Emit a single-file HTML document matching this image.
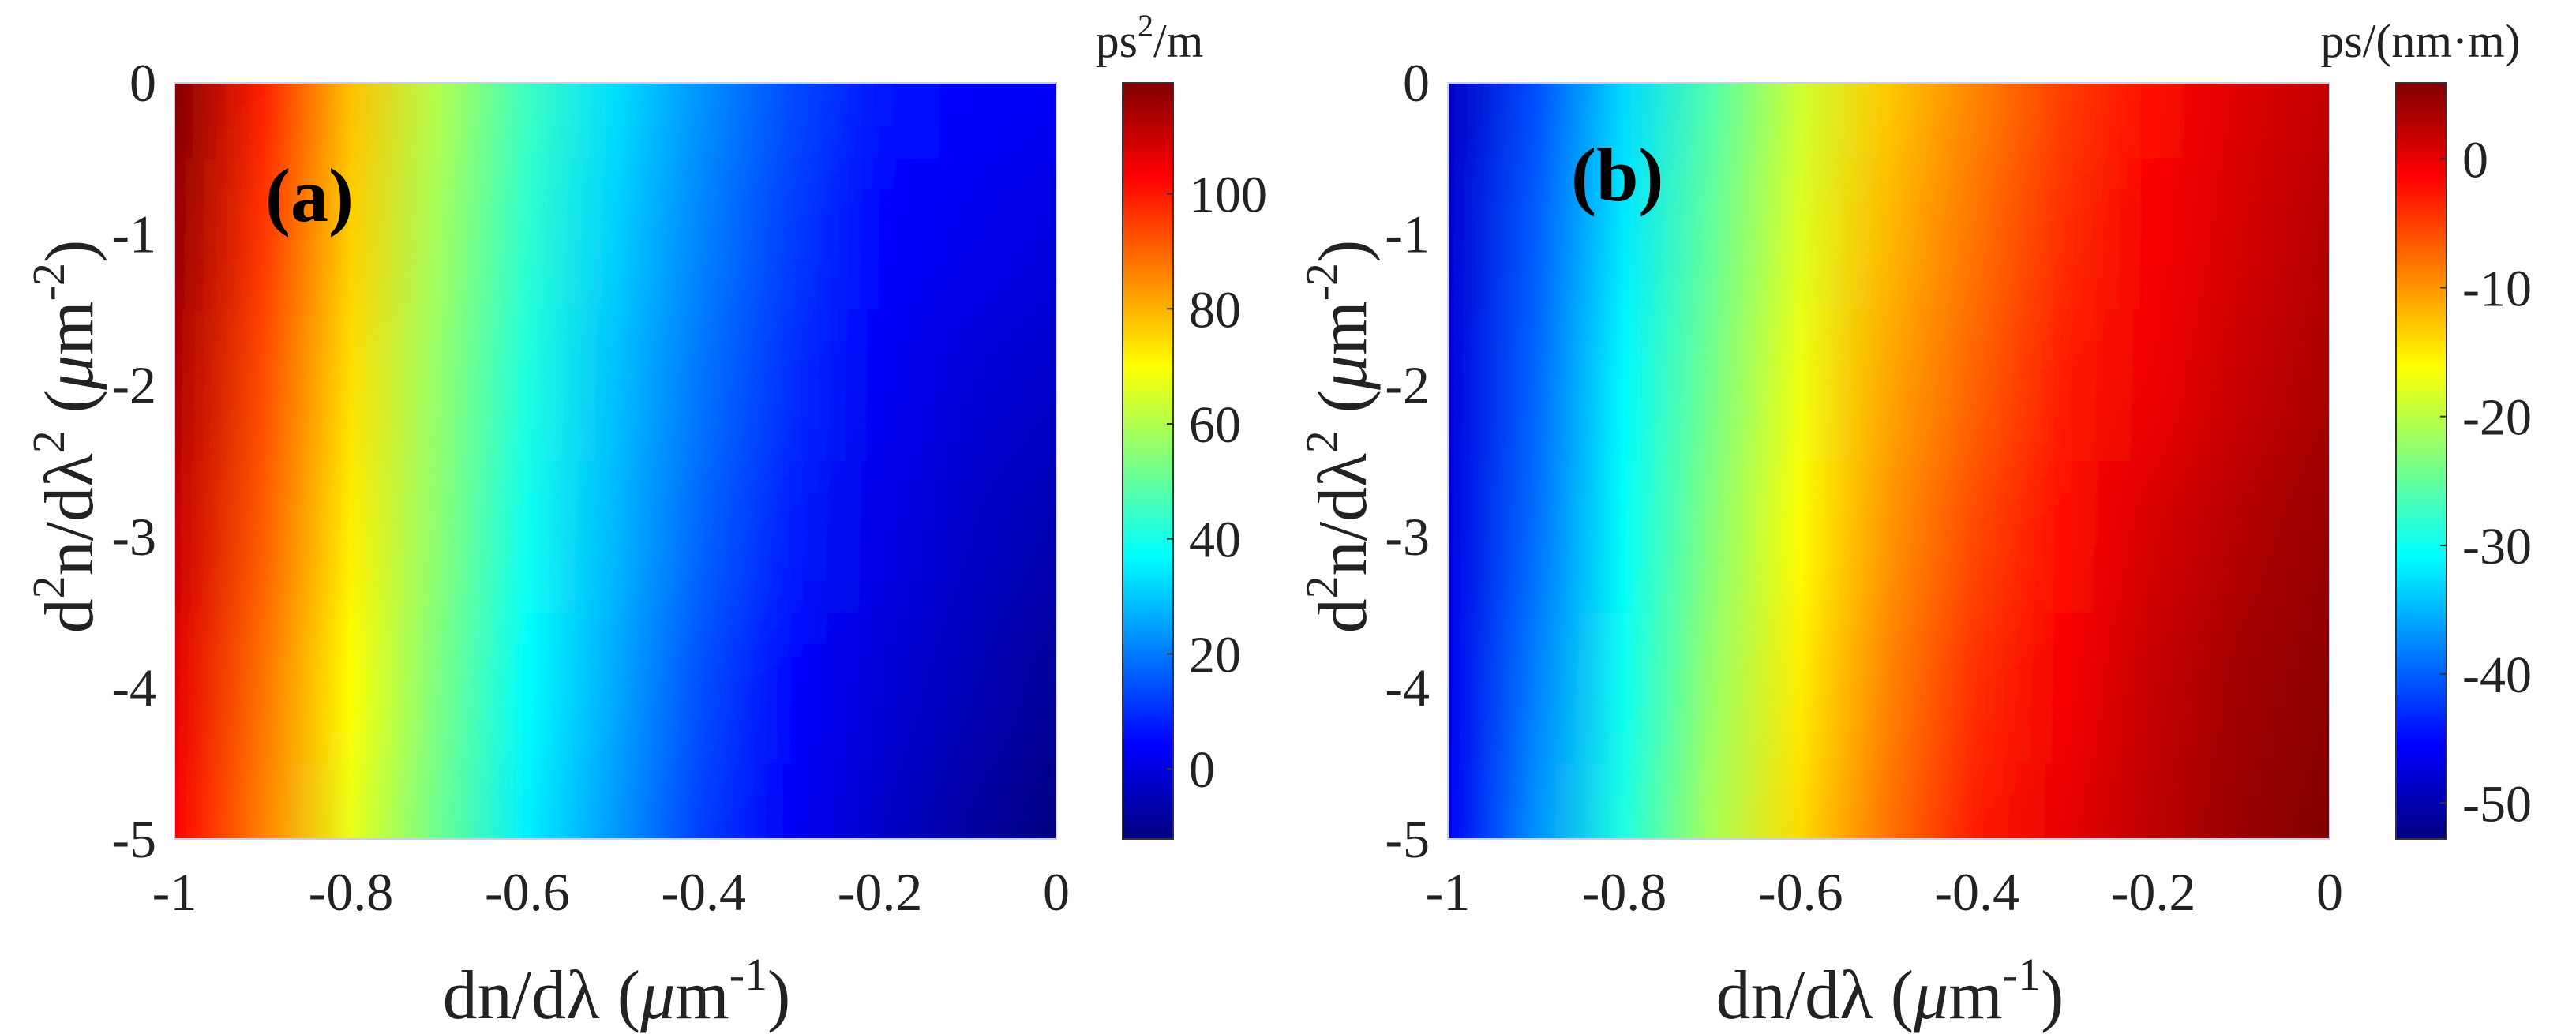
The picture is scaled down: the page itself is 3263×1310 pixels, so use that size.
<!DOCTYPE html>
<html><head><meta charset="utf-8">
<style>
html,body{margin:0;padding:0;background:#fff;overflow:hidden;width:3263px;height:1310px;}
svg{display:block;overflow:hidden;}
text{font-family:"Liberation Serif",serif;fill:#222;}
</style></head>
<body>
<svg id="fig" width="3263" height="1310" viewBox="0 0 3263 1310" xmlns="http://www.w3.org/2000/svg">
<defs id="defs">
<filter id="vblur" x="-0.01" y="-0.2" width="1.02" height="1.4"><feGaussianBlur stdDeviation="0 60"/></filter>
</defs>
<g id="root"></g>
</svg>
<script>
// ---- shared axes data ----
const xVals = [-1, -0.9, -0.8, -0.7, -0.6, -0.5, -0.4, -0.3, -0.2, -0.1, 0];
const yVals = [0, -1, -2, -3, -4, -5];
const xTicks = [-1, -0.8, -0.6, -0.4, -0.2, 0];
const xTickLabels = ["-1", "-0.8", "-0.6", "-0.4", "-0.2", "0"];
const yTicks = [0, -1, -2, -3, -4, -5];
const yTickLabels = ["0", "-1", "-2", "-3", "-4", "-5"];

// ---- panel (a): GVD, ps^2/m ----
const aRow0 = [119, 99, 78, 60, 45, 33, 23, 14, 7, 4, 3];
const aRow1 = [116, 96, 76, 58, 43, 31, 21, 12, 5, 2, 0];
const aRow2 = [113, 93, 74, 56, 41, 29, 19, 10, 3, -1, -3];
const aRow3 = [110, 91, 72, 55, 39, 28, 17, 8, 1, -3, -6];
const aRow4 = [106, 88, 70, 53, 37, 26, 14, 5, -1, -5, -9];
const aRow5 = [103, 86, 67, 51, 35, 24, 12, 3, -3, -8, -12];
const aRange = [-12.2, 119.3];
const aCbTicks = [0, 20, 40, 60, 80, 100];

// ---- panel (b): dispersion, ps/(nm·m) ----
const bRow0 = [-49, -41, -33, -26, -19, -13, -9, -5, -2, 0.5, 2];
const bRow1 = [-48, -40, -32, -25, -18, -12, -8, -4, -1, 1, 3];
const bRow2 = [-47.5, -39.5, -31, -24, -17, -11, -7, -3, -0.5, 1.8, 3.5];
const bRow3 = [-47, -39, -30.5, -23, -16, -10, -5.5, -2, 1, 3, 4.5];
const bRow4 = [-46.5, -38, -30, -22, -15, -9, -4, -1, 2, 4, 5.2];
const bRow5 = [-46, -37, -29, -21, -14, -8, -3, 0, 2.5, 4.5, 5.8];
const bRange = [-52.8, 5.9];
const bCbTicks = [0, -10, -20, -30, -40, -50];

const NS = "http://www.w3.org/2000/svg";
const root = document.getElementById("root");
const defs = document.getElementById("defs");

function mk(tag, attrs, parent) {
  const e = document.createElementNS(NS, tag);
  for (const k in attrs) e.setAttribute(k, attrs[k]);
  (parent || root).appendChild(e);
  return e;
}
function clamp(v) { return Math.max(0, Math.min(1, v)); }
function jet(t) {
  t = clamp(t);
  const r = clamp(1.5 - Math.abs(4 * t - 3));
  const g = clamp(1.5 - Math.abs(4 * t - 2));
  const b = clamp(1.5 - Math.abs(4 * t - 1));
  return "rgb(" + Math.round(r * 255) + "," + Math.round(g * 255) + "," + Math.round(b * 255) + ")";
}

function panel(id, L, rows, range, cbTicks, cbTitleParts, label) {
  const T = 105, B = 1063, W = 1117;
  const R = L + W;
  const xs = v => L + (v - xVals[0]) / (xVals[xVals.length - 1] - xVals[0]) * W;
  const ys = v => T + (yVals[0] - v) / (yVals[0] - yVals[yVals.length - 1]) * (B - T);
  const norm = v => (v - range[0]) / (range[1] - range[0]);

  const g = mk("g", {});
  
  

  const cp = mk("clipPath", { id: "clip-" + id }, defs);
  mk("rect", { x: L, y: T, width: W, height: B - T }, cp);

  const clipG = mk("g", { "clip-path": "url(#clip-" + id + ")" }, g);
  const hm = mk("g", { filter: "url(#vblur)" }, clipG);
  
  

  rows.forEach((row, j) => {
    const gid = "grad-" + id + "-" + j;
    const lg = mk("linearGradient", { id: gid, x1: xs(xVals[0]), x2: xs(xVals[xVals.length - 1]), y1: 0, y2: 0, gradientUnits: "userSpaceOnUse" }, defs);
    row.forEach((v, i) => {
      mk("stop", { offset: (xs(xVals[i]) - L) / W, "stop-color": jet(norm(v)) }, lg);
    });
    const yc = yVals[j];
    let yTop = ys(yc + 0.5);
    let yBot = ys(yc - 0.5);
    if (j === 0) yTop -= 140;
    if (j === rows.length - 1) yBot += 140;
    const r = mk("rect", { x: L, y: yTop, width: W, height: yBot - yTop + 0.6, fill: "url(#" + gid + ")" }, hm);
    
    
  });
  const fr = mk("rect", { x: L, y: T, width: W, height: B - T, fill: "none", stroke: "#c8d0e8", "stroke-width": 2 }, g);
  
  

  xTicks.forEach((v, i) => {
    const t = mk("text", { x: xs(v), y: 1153, "text-anchor": "middle", "font-size": 68 }, g);
    t.textContent = xTickLabels[i];
    
    
  });
  yTicks.forEach((v, i) => {
    const t = mk("text", { x: L - 23, y: ys(v) + 23, "text-anchor": "end", "font-size": 68 }, g);
    t.textContent = yTickLabels[i];
    
    
  });
  const xt = mk("text", { x: L + 560, y: 1290, "text-anchor": "middle", "font-size": 88 }, g);
  xt.innerHTML = 'dn/d\u03bb (<tspan font-style="italic">\u03bc</tspan>m<tspan dy="-36" font-size="58">-1</tspan><tspan dy="36">)</tspan>';
  
  
  const yx = L - 104, yy = 553;
  const yt = mk("text", { x: yx, y: yy, "text-anchor": "middle", "font-size": 88, transform: "rotate(-90 " + yx + " " + yy + ")" }, g);
  yt.innerHTML = 'd<tspan dy="-36" font-size="58">2</tspan><tspan dy="36">n/d\u03bb</tspan><tspan dy="-36" font-size="58">2</tspan><tspan dy="36"> (</tspan><tspan font-style="italic">\u03bc</tspan>m<tspan dy="-36" font-size="58">-2</tspan><tspan dy="36">)</tspan>';
  
  
  const pl = mk("text", { x: label.x, y: label.y, "font-size": 96, "font-weight": "bold", fill: "#000" }, g);
  pl.textContent = label.text;
  pl.style.fill = "#000";
  
  

  const cbL = R + 84, cbW = 64;
  const cy = v => B - norm(v) * (B - T);
  const cgid = "cb-" + id;
  const cg = mk("linearGradient", { id: cgid, x1: 0, x2: 0, y1: 1, y2: 0 }, defs);
  for (let k = 0; k <= 8; k++) mk("stop", { offset: k / 8, "stop-color": jet(k / 8) }, cg);
  const cb = mk("rect", { x: cbL, y: T, width: cbW, height: B - T, fill: "url(#" + cgid + ")", stroke: "#333", "stroke-width": 2 }, g);
  
  
  cbTicks.forEach(v => {
    const tk = mk("line", { x1: cbL + cbW - 8, x2: cbL + cbW, y1: cy(v), y2: cy(v), stroke: "#333", "stroke-width": 2 }, g);
    
    
    const t = mk("text", { x: cbL + cbW + 20, y: cy(v) + 23, "font-size": 66 }, g);
    t.textContent = String(v);
    
    
  });
  const ct = mk("text", { x: cbL + cbW / 2 + cbTitleParts.dx, y: 72, "text-anchor": "middle", "font-size": 60 }, g);
  ct.innerHTML = cbTitleParts.html;
  
  
}

panel("a", 221, [aRow0, aRow1, aRow2, aRow3, aRow4, aRow5], aRange, aCbTicks,
  { dx: 2, html: 'ps<tspan dy="-26" font-size="40">2</tspan><tspan dy="26">/m</tspan>' },
  { x: 336, y: 280, text: "(a)" });
panel("b", 1834, [bRow0, bRow1, bRow2, bRow3, bRow4, bRow5], bRange, bCbTicks,
  { dx: -1, html: 'ps/(nm\u00b7m)' },
  { x: 1990, y: 254, text: "(b)" });
</script>
</body></html>
